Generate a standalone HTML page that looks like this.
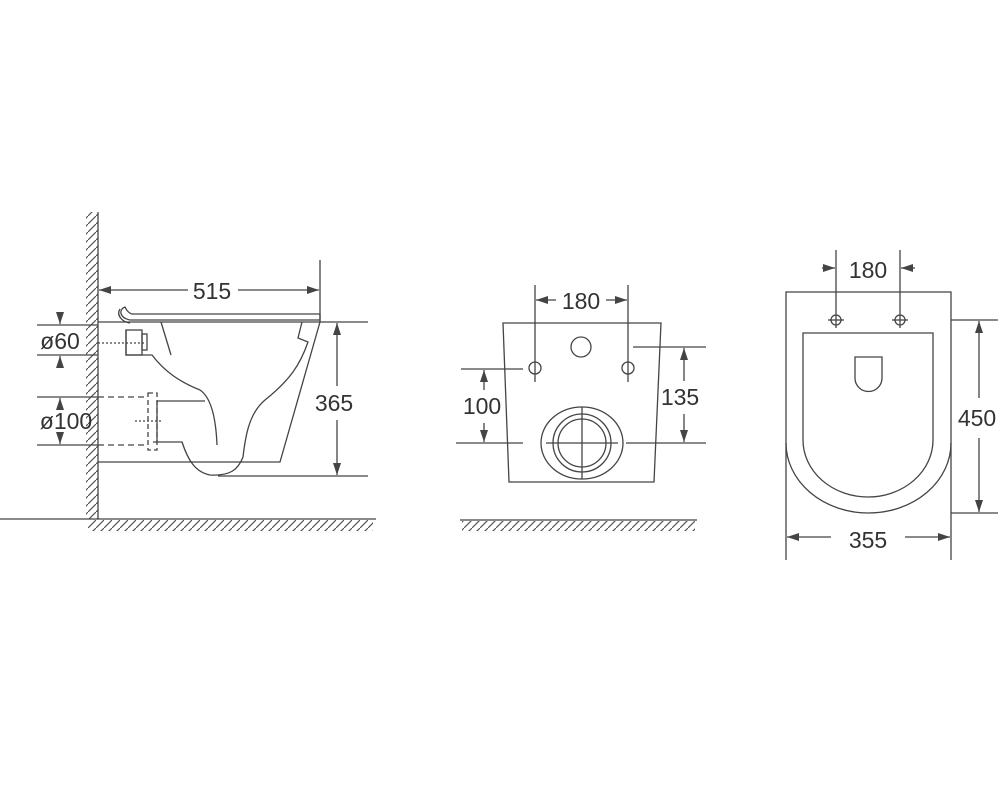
<!DOCTYPE html>
<html><head><meta charset="utf-8"><style>
html,body{margin:0;padding:0;background:#fff;}
svg{display:block;}
text{font-family:"Liberation Sans",sans-serif;font-size:23px;fill:#333;text-anchor:middle;dominant-baseline:central;}
</style></head><body>
<svg width="1000" height="800" viewBox="0 0 1000 800" xmlns="http://www.w3.org/2000/svg">
<defs>
<marker id="a" viewBox="0 0 12 8" refX="12" refY="4" markerWidth="12" markerHeight="8" markerUnits="userSpaceOnUse" orient="auto-start-reverse"><path d="M0,0 L12,4 L0,8 z" fill="#444"/></marker>
<pattern id="hv" width="8" height="8" patternUnits="userSpaceOnUse"><path d="M-1,9 L9,-1" stroke="#555" stroke-width="1.2"/></pattern>
</defs>
<g stroke="#444" stroke-width="1.3" fill="none">
<!-- LEFT VIEW: wall + floor -->
<rect x="86" y="212" width="12" height="307" fill="url(#hv)" stroke="none"/>
<line x1="98" y1="212" x2="98" y2="519"/>
<line x1="0" y1="519" x2="376" y2="519"/>
<rect x="88" y="520" width="285" height="11" fill="url(#hv)" stroke="none"/>
<!-- 515 -->
<line x1="320" y1="260" x2="320" y2="322"/>
<line x1="99" y1="290" x2="188" y2="290" marker-start="url(#a)"/>
<line x1="238" y1="290" x2="319" y2="290" marker-end="url(#a)"/>
<text x="212" y="291" stroke="none">515</text>
<!-- seat -->
<path d="M125,307 C118,310 120,318 130,320 L320,320 L320,314 L132,314 C126,312 126,308 125,307 Z"/>
<path d="M120,309 C116,315 122,322 130,323"/>
<!-- rim & body -->
<line x1="98" y1="322" x2="368" y2="322"/>
<line x1="218" y1="476" x2="368" y2="476"/>
<path d="M320,322 L280,462 L98,462"/>
<path d="M161,322 L171,355"/>
<path d="M126,330 L126,355 L152,355 C165,372 180,382 200,390 C212,398 216,420 217,445"/>
<path d="M302,322 L298,338 L308,342 C300,365 290,380 265,400 C248,414 245,440 243,457 C238,470 230,476 210,475 C195,472 188,460 182,442 L153,442"/>
<path d="M157,401 L205,401"/>
<line x1="157" y1="401" x2="157" y2="442"/>
<!-- inlet -->
<rect x="126" y="330" width="16" height="25"/>
<rect x="142" y="334" width="5" height="16"/>
<line x1="98" y1="343" x2="146" y2="343" stroke-dasharray="2,2"/>
<!-- outlet dashed -->
<line x1="98" y1="397" x2="148" y2="397" stroke-dasharray="6,4"/>
<line x1="98" y1="445" x2="148" y2="445" stroke-dasharray="6,4"/>
<rect x="148" y="393" width="9" height="57" stroke-dasharray="5,3"/>
<line x1="135" y1="421" x2="163" y2="421" stroke-dasharray="2,2"/>
<!-- 365 -->
<line x1="337" y1="323" x2="337" y2="386" marker-start="url(#a)"/>
<line x1="337" y1="420" x2="337" y2="475" marker-end="url(#a)"/>
<text x="334" y="403" stroke="none">365</text>
<!-- ø60 -->
<line x1="37" y1="325" x2="98" y2="325"/>
<line x1="37" y1="355" x2="98" y2="355"/>
<line x1="60" y1="312" x2="60" y2="324" marker-end="url(#a)"/>
<line x1="60" y1="368" x2="60" y2="356" marker-end="url(#a)"/>
<text x="60" y="341" stroke="none">ø60</text>
<!-- ø100 -->
<line x1="37" y1="397" x2="98" y2="397"/>
<line x1="37" y1="445" x2="98" y2="445"/>
<line x1="60" y1="408" x2="60" y2="398" marker-end="url(#a)"/>
<line x1="60" y1="434" x2="60" y2="444" marker-end="url(#a)"/>
<text x="66" y="421" stroke="none">ø100</text>

<!-- MIDDLE VIEW -->
<path d="M503,323 L661,323 L654,482 L509,482 Z"/>
<circle cx="581" cy="347" r="10"/>
<circle cx="535" cy="368" r="6"/>
<circle cx="628" cy="368" r="6"/>
<line x1="535" y1="285" x2="535" y2="382"/>
<line x1="628" y1="285" x2="628" y2="382"/>
<line x1="536" y1="300" x2="556" y2="300" marker-start="url(#a)"/>
<line x1="606" y1="300" x2="627" y2="300" marker-end="url(#a)"/>
<text x="581" y="301" stroke="none">180</text>
<ellipse cx="582" cy="443" rx="41" ry="36"/>
<circle cx="582" cy="443" r="29"/>
<circle cx="582" cy="443" r="24"/>
<line x1="582" y1="407" x2="582" y2="479"/>
<line x1="546" y1="443" x2="618" y2="443"/>
<line x1="461" y1="369" x2="523" y2="369"/>
<line x1="456" y1="443" x2="523" y2="443"/>
<line x1="484" y1="370" x2="484" y2="390" marker-start="url(#a)"/>
<line x1="484" y1="423" x2="484" y2="442" marker-end="url(#a)"/>
<text x="482" y="406" stroke="none">100</text>
<line x1="633" y1="347" x2="706" y2="347"/>
<line x1="626" y1="443" x2="706" y2="443"/>
<line x1="684" y1="348" x2="684" y2="381" marker-start="url(#a)"/>
<line x1="684" y1="414" x2="684" y2="442" marker-end="url(#a)"/>
<text x="680" y="397" stroke="none">135</text>
<line x1="460" y1="520" x2="697" y2="520"/>
<rect x="462" y="521" width="233" height="10" fill="url(#hv)" stroke="none"/>

<!-- RIGHT VIEW -->
<path d="M786,560 L786,292 L951,292 L951,560"/>
<path d="M786,443 A82.5,70 0 0 0 951,443"/>
<path d="M803,333 L933,333 L933,440 A65,57 0 0 1 803,440 Z"/>
<path d="M855,357 L882,357 L882,378 A13.5,13.5 0 0 1 855,378 Z"/>
<circle cx="836" cy="320" r="5"/>
<circle cx="900" cy="320" r="5"/>
<line x1="828" y1="320" x2="844" y2="320"/>
<line x1="892" y1="320" x2="908" y2="320"/>
<line x1="836" y1="250" x2="836" y2="328"/>
<line x1="900" y1="250" x2="900" y2="328"/>
<line x1="822" y1="268" x2="835" y2="268" marker-end="url(#a)"/>
<line x1="915" y1="268" x2="901" y2="268" marker-end="url(#a)"/>
<text x="868" y="270" stroke="none">180</text>
<line x1="951" y1="320" x2="998" y2="320"/>
<line x1="951" y1="513" x2="998" y2="513"/>
<line x1="979" y1="321" x2="979" y2="398" marker-start="url(#a)"/>
<line x1="979" y1="438" x2="979" y2="512" marker-end="url(#a)"/>
<text x="977" y="418" stroke="none">450</text>
<line x1="787" y1="537" x2="831" y2="537" marker-start="url(#a)"/>
<line x1="905" y1="537" x2="950" y2="537" marker-end="url(#a)"/>
<text x="868" y="540" stroke="none">355</text>
</g>
</svg>
</body></html>
